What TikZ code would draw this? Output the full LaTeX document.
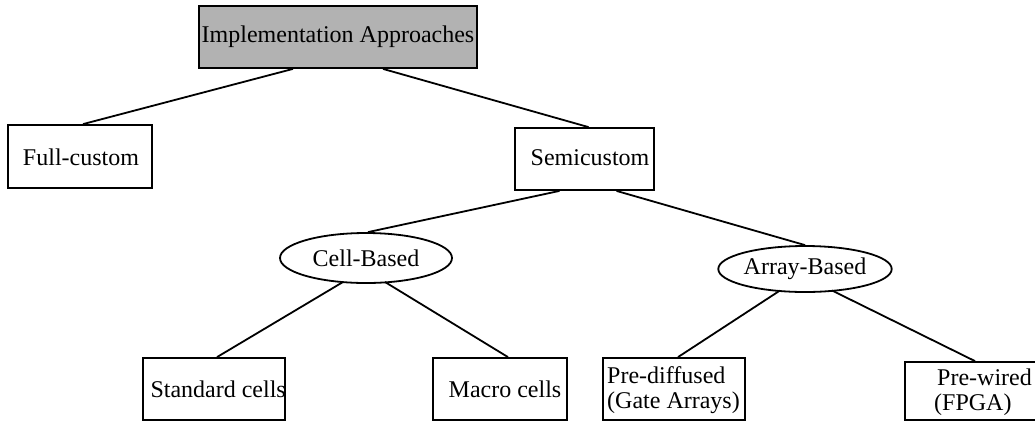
\documentclass[tikz,border=0pt]{standalone}
\usepackage{fontspec}
\setmainfont{Liberation Serif}
\usetikzlibrary{shapes.geometric,calc}

\tikzset{
  shape box/.style={draw, line width=1.8pt, inner sep=0pt},
  oval/.style={draw, ellipse, line width=1.8pt, inner sep=0pt},
  label txt/.style={inner sep=0pt},
  link/.style={line width=1.8pt},
}

\begin{document}
\begin{tikzpicture}[x=1pt, y=-1pt, font=\fontsize{24}{24.5}\selectfont]
  \useasboundingbox (0,0) rectangle (1035,424);

  % root
  \node[shape box, fill=black!30, minimum width=278pt, minimum height=62pt] (root) at (338,37) {Implementation Approaches};

  % second level
  \node[shape box, minimum width=144pt, minimum height=63pt] (full) at (80,156.5) {};
  \node[label txt] (fullT) at (81,157) {Full-custom};
  \node[shape box, minimum width=139pt, minimum height=62pt] (semi) at (584.5,159) {};
  \node[label txt] (semiT) at (590,158) {Semicustom};

  % third level
  \node[oval, minimum width=172pt, minimum height=50pt] (cell) at (366,258) {Cell-Based};
  \node[oval, minimum width=146pt, minimum height=46pt] (arr) at (805,269) {Array-Based};

  % leaves
  \node[shape box, minimum width=142pt, minimum height=62pt] (std) at (214,389) {};
  \node[label txt, anchor=east] (stdT) at (286,389) {Standard cells};
  \node[shape box, minimum width=134pt, minimum height=62pt] (mac) at (500,389) {};
  \node[label txt] (macT) at (505,389) {Macro cells};
  \node[shape box, minimum width=142pt, minimum height=62pt] (pdf) at (674,389) {};
  \node[label txt, anchor=west, align=left] (pdfT) at (607,390) {Pre-diffused\\(Gate Arrays)};
  \node[shape box, minimum width=140pt, minimum height=58pt] (pwr) at (975,391) {};
  \node[label txt, anchor=west, align=left] (pwrT) at (934,392) {\hspace{3pt}Pre-wired\\(FPGA)};

  % connectors
  \draw[link] ($(root.south)+(-45,0)$) -- ($(full.north)+(3,0)$);
  \draw[link] ($(root.south)+(45,0)$) -- ($(semi.north)+(4,0)$);
  \draw[link] ($(semi.south)+(-25,0)$) -- ($(cell.north)+(2,0)$);
  \draw[link] ($(semi.south)+(32,0)$) -- (arr.north);
  \draw[link] ($(cell.center)+(-23,24)$) -- ($(std.north)+(3,0)$);
  \draw[link] ($(cell.center)+(19,24)$) -- ($(mac.north)+(8,0)$);
  \draw[link] ($(arr.center)+(-25,21.5)$) -- ($(pdf.north)+(4,0)$);
  \draw[link] ($(arr.center)+(27,21.5)$) -- (pwr.north);
\end{tikzpicture}
\end{document}
